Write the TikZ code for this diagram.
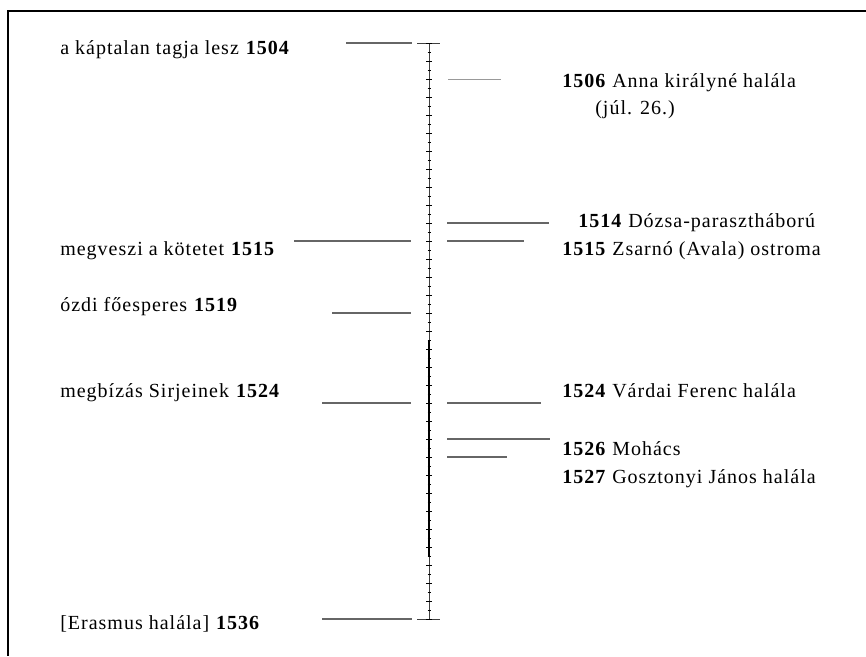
\documentclass[tikz,border=0pt]{standalone}
\usepackage{fontspec}
\setmainfont[LetterSpace=5]{Liberation Serif}
\usepackage{tikz}
\usetikzlibrary{arrows}

\begin{document}
\begin{tikzpicture}[x=1pt,y=-1pt,line width=0.2mm,font=\fontsize{20}{24}\selectfont]
  \tikzstyle{event line} = [draw,line width=1.4pt,black!60]
  \tikzstyle{faint line} = [draw,line width=0.9pt,black!40]
  \tikzstyle{axis line} = [draw,line width=0.7pt,black!75]
  \tikzstyle{year label} = [anchor=base west,inner sep=0pt]
  \useasboundingbox (0,0) rectangle (866,656);

  % frame, only top and left are visible
  \draw[line width=1.5pt] (866,11) -- (8,11) -- (8,656);

  % the axis
  \coordinate (T)  at (429,43);
  \coordinate (B)  at (429,619);
  \coordinate (Tl) at (417,43);
  \coordinate (Tr) at (440,43);
  \coordinate (Bl) at (417,619);
  \coordinate (Br) at (440,619);
  \path[axis line] (T) -- (B);
  \path[axis line] (Tl) -- (Tr);
  \path[axis line] (Bl) -- (Br);
  \draw[line width=1.6pt] (429,340) -- (429,556);
  \foreach \n in {0,...,32}
    \draw[line width=0.8pt] (426,{43+\n*18}) -- (432,{43+\n*18});
  \foreach \n in {0,...,31}
    \draw[line width=0.5pt] (427.5,{52+\n*18}) -- (430.5,{52+\n*18});

  % left side
  \node[year label] (L1504) at (60,54)  {a káptalan tagja lesz \textbf{1504}};
  \node[year label] (L1515) at (60,255) {megveszi a kötetet \textbf{1515}};
  \node[year label] (L1519) at (60,311) {ózdi főesperes \textbf{1519}};
  \node[year label] (L1524) at (60,397) {megbízás Sirjeinek \textbf{1524}};
  \node[year label] (L1536) at (60,629) {[Erasmus halála] \textbf{1536}};

  \coordinate (a1504) at (346,43);  \coordinate (b1504) at (412,43);
  \coordinate (a1515) at (294,241); \coordinate (b1515) at (411,241);
  \coordinate (a1519) at (332,313); \coordinate (b1519) at (411,313);
  \coordinate (a1524) at (322,403); \coordinate (b1524) at (411,403);
  \coordinate (a1536) at (322,619); \coordinate (b1536) at (412,619);

  \path[event line] (a1504) -- (b1504);
  \path[event line] (a1515) -- (b1515);
  \path[event line] (a1519) -- (b1519);
  \path[event line] (a1524) -- (b1524);
  \path[event line] (a1536) -- (b1536);

  % right side
  \node[year label] (R1506) at (562,87)  {\textbf{1506} Anna királyné halála};
  \node[year label] (R1506b) at (595,114) {(júl. 26.)};
  \node[year label] (R1514) at (578,227) {\textbf{1514} Dózsa-parasztháború};
  \node[year label] (R1515) at (562,255) {\textbf{1515} Zsarnó (Avala) ostroma};
  \node[year label] (R1524) at (562,397) {\textbf{1524} Várdai Ferenc halála};
  \node[year label] (R1526) at (562,455) {\textbf{1526} Mohács};
  \node[year label] (R1527) at (562,483) {\textbf{1527} Gosztonyi János halála};

  \coordinate (c1506) at (448,79);  \coordinate (d1506) at (501,79);
  \coordinate (c1514) at (447,223); \coordinate (d1514) at (549,223);
  \coordinate (c1515) at (447,241); \coordinate (d1515) at (524,241);
  \coordinate (c1524) at (447,403); \coordinate (d1524) at (541,403);
  \coordinate (c1526) at (447,439); \coordinate (d1526) at (550,439);
  \coordinate (c1527) at (447,457); \coordinate (d1527) at (507,457);

  \path[faint line] (c1506) -- (d1506);
  \path[event line] (c1514) -- (d1514);
  \path[event line] (c1515) -- (d1515);
  \path[event line] (c1524) -- (d1524);
  \path[event line] (c1526) -- (d1526);
  \path[event line] (c1527) -- (d1527);
\end{tikzpicture}
\end{document}
